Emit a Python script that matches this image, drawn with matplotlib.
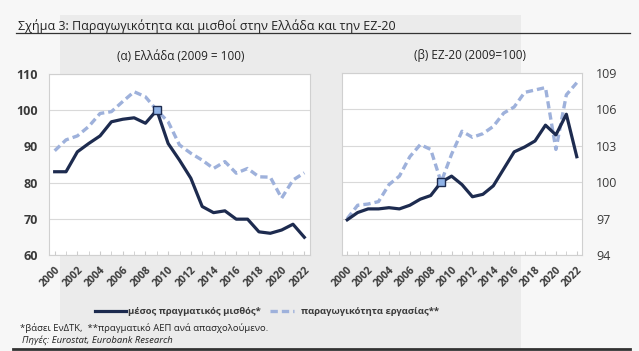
import matplotlib
matplotlib.use('Agg')
import matplotlib.pyplot as plt
import matplotlib.patches as mpatches
from matplotlib.lines import Line2D

plt.rcParams['font.family'] = ['Open Sans', 'DejaVu Sans']

years = list(range(2000, 2023))

# Ελλάδα (2009 = 100)
gr_wage = [83.0, 83.0, 88.5, 90.8, 92.9, 96.8, 97.5, 97.9, 96.4, 100.0, 90.8, 86.2,
           81.2, 73.4, 71.7, 72.2, 69.9, 69.9, 66.4, 66.0, 66.9, 68.5, 64.9]
gr_prod = [88.8, 91.8, 92.9, 95.5, 99.1, 99.6, 102.4, 105.1, 103.7, 100.0, 96.8, 90.4,
           88.1, 86.2, 83.9, 85.8, 82.6, 83.9, 81.6, 81.5, 75.7, 80.7, 82.7]

# ΕΖ-20 (2009 = 100)
ez_wage = [96.9, 97.5, 97.8, 97.8, 97.9, 97.8, 98.1, 98.6, 98.9, 100.0, 100.5, 99.8,
           98.8, 99.0, 99.7, 101.1, 102.5, 102.9, 103.4, 104.7, 103.9, 105.6, 102.1]
ez_prod = [97.0, 98.1, 98.2, 98.4, 99.8, 100.5, 102.1, 103.1, 102.7, 100.0, 102.3, 104.2,
           103.7, 104.0, 104.6, 105.7, 106.2, 107.4, 107.6, 107.8, 102.7, 107.2, 108.2]

dark = '#1d2b4f'
light = '#9eb1db'
txt = '#3a3a3a'

fig = plt.figure(figsize=(6.39, 3.51), dpi=100)
fig.patch.set_facecolor('#f7f7f7')
W, H = 639, 351

def fx(px):
    return px / W

def fy(py):
    return 1 - py / H

# γκρι φόντο
fig.patches.append(mpatches.Rectangle((fx(60), fy(349)), fx(521) - fx(60), fy(15) - fy(349),
                                      transform=fig.transFigure, facecolor='#ebebeb',
                                      edgecolor='none', zorder=-10))

fig.text(fx(18), fy(26), 'Σχήμα 3: Παραγωγικότητα και μισθοί στην Ελλάδα και την ΕΖ-20',
         fontsize=9, color='#222222', va='center', ha='left')
fig.add_artist(Line2D([fx(16), fx(630)], [fy(33), fy(33)], color='#333333', lw=0.9))
fig.add_artist(Line2D([fx(13), fx(630)], [fy(349), fy(349)], color='#333333', lw=2.0))


def draw(ax, wage, prod, ylim, yticks, right=False):
    x = list(range(len(years)))
    ax.set_facecolor('white')
    ax.plot(x, prod, color=light, lw=2.4, ls=(0, (2.2, 1.2)), zorder=3)
    ax.plot(x, wage, color=dark, lw=2.3, zorder=4)
    ax.plot(x[9], wage[9], marker='s', ms=5.5, mfc='#8fb2e6', mec=dark, mew=1.0, zorder=5)
    ax.set_xlim(-0.5, 22.5)
    ax.set_ylim(*ylim)
    ax.set_yticks(yticks)
    ax.yaxis.grid(True, color='#d9d9d9', lw=0.8)
    ax.set_axisbelow(True)
    ax.set_xticks(x, minor=True)
    ax.set_xticks(x[::2])
    ax.set_xticklabels([str(y) for y in years[::2]], rotation=45, ha='right',
                       rotation_mode='anchor', fontsize=7.5, color=txt, fontweight='bold')
    ax.tick_params(axis='x', which='both', direction='in', length=3, color='#cccccc', pad=7)
    ax.tick_params(axis='y', length=0, labelsize=9, labelcolor=txt, pad=10 if right else 8)
    for lab in ax.get_yticklabels():
        lab.set_fontweight('bold')
    for s in ax.spines.values():
        s.set_color('#d0d0d0')
        s.set_linewidth(0.8)
    if right:
        ax.yaxis.tick_right()


ax1 = fig.add_axes([fx(49), fy(255), fx(310) - fx(49), fy(74) - fy(255)])
draw(ax1, gr_wage, gr_prod, (60, 110), [60, 70, 80, 90, 100, 110])
ax2 = fig.add_axes([fx(342), fy(255), fx(582) - fx(342), fy(73) - fy(255)])
draw(ax2, ez_wage, ez_prod, (94, 109), [94, 97, 100, 103, 106, 109], right=True)

fig.text(fx(181), fy(56), '(α) Ελλάδα (2009 = 100)', fontsize=8.5, color='#222222',
         ha='center', va='center')
fig.text(fx(470), fy(55), '(β) ΕΖ-20 (2009=100)', fontsize=8.5, color='#222222',
         ha='center', va='center')

# υπόμνημα
fig.add_artist(Line2D([fx(95), fx(126)], [fy(311), fy(311)], color=dark, lw=2.3))
fig.text(fx(128), fy(311), 'μέσος πραγματικός μισθός*', fontsize=6.8, color=txt,
         fontweight='bold', va='center')
fig.add_artist(Line2D([fx(270), fx(294)], [fy(311), fy(311)], color=light, lw=2.4,
                      ls=(0, (2.2, 1.2))))
fig.text(fx(301), fy(311), 'παραγωγικότητα εργασίας**', fontsize=6.8, color=txt,
         fontweight='bold', va='center')

fig.text(fx(20), fy(328), '*βάσει ΕνΔΤΚ,  **πραγματικό ΑΕΠ ανά απασχολούμενο.',
         fontsize=6.8, color='#222222', va='center')
fig.text(fx(22), fy(340), 'Πηγές: Eurostat, Eurobank Research', fontsize=6.8,
         color='#222222', va='center', style='italic')

fig.savefig('out.png', dpi=100, facecolor=fig.get_facecolor())
